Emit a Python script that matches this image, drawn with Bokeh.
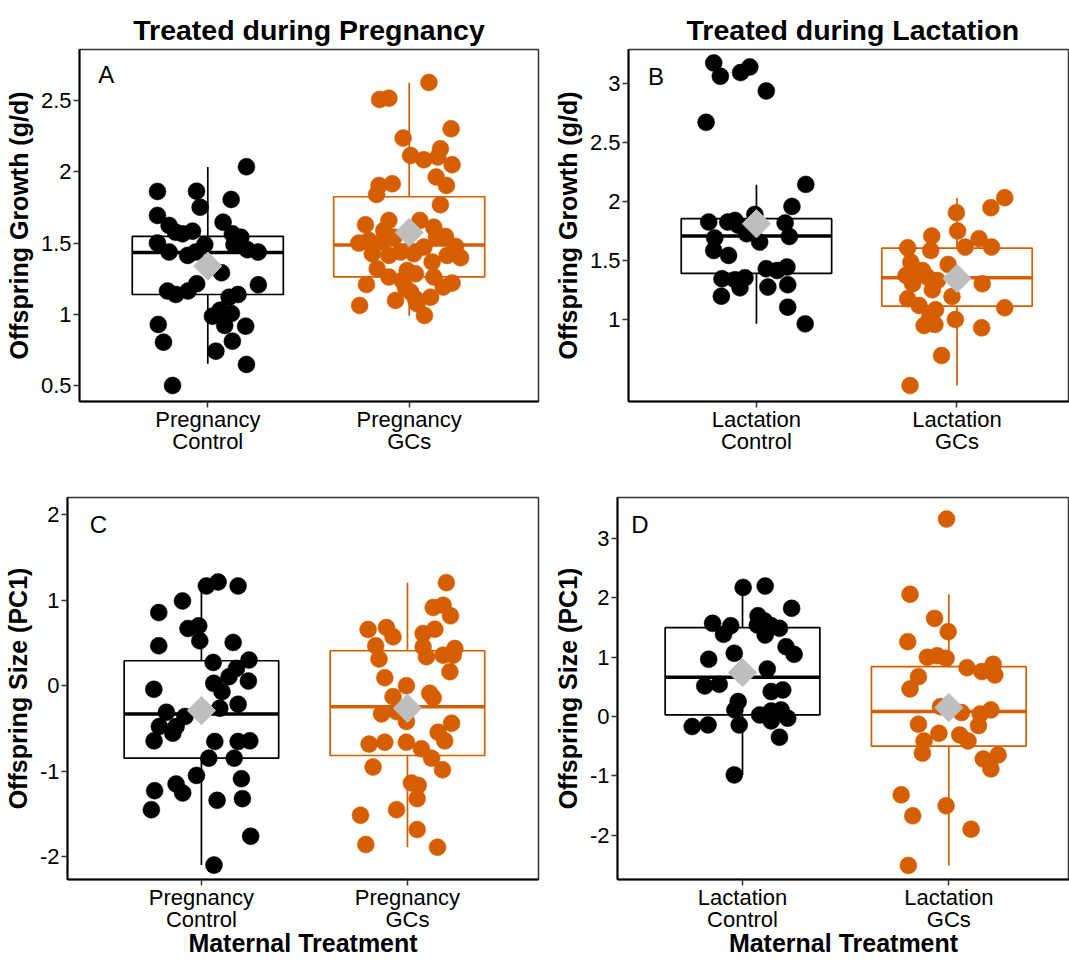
import numpy as np
from bokeh.plotting import figure
from bokeh.layouts import row, column
from bokeh.models import FixedTicker, NumeralTickFormatter, Label, Range1d
from bokeh.embed import file_html
from bokeh.resources import INLINE

BLACK = "#000000"
ORANGE = "#D55E00"
GREY = "#BEBEBE"
FONT = "Liberation Sans"

groups = [1, 2]
preg_labels = ["Pregnancy\nControl", "Pregnancy\nGCs"]
lact_labels = ["Lactation\nControl", "Lactation\nGCs"]

# ---------------- Panel A: growth, pregnancy ----------------
a_ctrl_x = [0.75, 0.944, 1.192, 1.116, 0.962, 0.75, 1.076, 0.808, 0.924, 0.874, 0.84, 0.75, 0.808, 0.9,
            0.985, 0.94, 1.122, 1.164, 1.13, 1.197, 1.25, 1.068, 1.251, 0.8, 0.841, 0.902, 0.945, 1.106,
            1.15, 1.023, 1.117, 1.061, 1.084, 1.188, 0.754, 0.78, 1.122, 1.04, 1.192, 0.825]
a_ctrl_y = [1.862, 1.864, 2.035, 1.806, 1.752, 1.694, 1.647, 1.624, 1.584, 1.565, 1.577, 1.5, 1.437, 1.414,
            1.49, 1.437, 1.565, 1.542, 1.49, 1.453, 1.437, 1.292, 1.208, 1.164, 1.14, 1.164, 1.215, 1.121,
            1.14, 0.988, 1.007, 1.03, 0.923, 0.918, 0.93, 0.806, 0.813, 0.743, 0.65, 0.502]
a_gcs_x = [2.098, 1.853, 1.899, 2.208, 1.97, 2.007, 2.073, 2.155, 2.142, 2.213, 1.916, 1.85, 2.134, 2.185,
           1.838, 2.155, 1.783, 1.899, 1.874, 2.053, 2.122, 2.18, 2.23, 2.255, 1.75, 1.8, 1.817, 1.899,
           1.957, 2.023, 2.073, 2.114, 2.188, 1.841, 1.899, 1.99, 2.031, 1.965, 2.122, 2.169, 2.213, 1.788,
           1.982, 1.932, 2.031, 2.106, 1.754, 2.04, 2.076, 2.007, 1.864, 1.924, 2.136]
a_gcs_y = [2.626, 2.507, 2.516, 2.301, 2.236, 2.114, 2.084, 2.161, 2.103, 2.049, 1.916, 1.904, 1.963, 1.904,
           1.841, 1.769, 1.628, 1.659, 1.589, 1.659, 1.612, 1.547, 1.477, 1.397, 1.5, 1.519, 1.425, 1.414,
           1.437, 1.425, 1.472, 1.367, 1.414, 1.32, 1.262, 1.308, 1.285, 1.238, 1.262, 1.192, 1.22, 1.21,
           1.187, 1.098, 1.11, 1.121, 1.063, 1.075, 0.993, 1.157, 1.507, 1.542, 1.542]
a_q1 = [1.14, 1.264]
a_med = [1.435, 1.486]
a_q3 = [1.547, 1.825]
a_lo = [0.654, 0.991]
a_hi = [2.033, 2.624]
a_mean = [1.339, 1.575]
a_ticks = [0.5, 1, 1.5, 2, 2.5]

# ---------------- Panel B: growth, lactation ----------------
b_ctrl_x = [0.787, 0.82, 0.921, 0.967, 1.049, 0.749, 1.246, 1.177, 0.762, 0.857, 0.893, 0.992, 0.951, 1.143,
            1.164, 0.792, 0.787, 0.861, 1.016, 0.828, 0.893, 0.943, 0.918, 1.049, 1.103, 1.152, 1.057, 1.156,
            0.825, 1.156, 1.243, 0.91]
b_ctrl_y = [3.178, 3.065, 3.096, 3.144, 2.94, 2.674, 2.147, 1.96, 1.827, 1.827, 1.841, 1.892, 1.728, 1.819,
            1.705, 1.691, 1.586, 1.544, 1.657, 1.346, 1.337, 1.354, 1.269, 1.431, 1.416, 1.445, 1.275, 1.295,
            1.198, 1.105, 0.963, 1.8]
b_gcs_x = [2.238, 2.169, 1.997, 2.003, 1.874, 2.11, 1.754, 1.869, 2.041, 2.172, 1.77, 1.956, 1.746, 1.803,
           1.852, 1.902, 1.877, 1.779, 2.126, 1.754, 1.811, 1.975, 1.893, 1.864, 1.836, 1.89, 1.992, 2.238,
           2.123, 1.923, 1.766, 1.828]
b_gcs_y = [2.034, 1.949, 1.907, 1.751, 1.708, 1.686, 1.609, 1.586, 1.615, 1.615, 1.487, 1.467, 1.374, 1.388,
           1.36, 1.331, 1.252, 1.303, 1.303, 1.176, 1.119, 1.195, 1.082, 1.02, 0.949, 0.958, 1.0, 1.099,
           0.929, 0.694, 0.439, 1.416]
b_q1 = [1.391, 1.113]
b_med = [1.708, 1.354]
b_q3 = [1.856, 1.606]
b_lo = [0.963, 0.439]
b_hi = [2.144, 2.034]
b_mean = [1.813, 1.348]
b_ticks = [1, 1.5, 2, 2.5, 3]

# ---------------- Panel C: size, pregnancy ----------------
c_ctrl_x = [1.024, 1.081, 1.178, 0.908, 0.793, 0.935, 0.987, 0.992, 0.793, 1.154, 1.057, 1.231, 1.17, 1.134,
            1.06, 1.228, 1.1, 0.769, 1.178, 1.089, 0.83, 0.92, 0.796, 0.877, 0.861, 0.77, 1.065, 1.178,
            1.235, 1.036, 1.159, 0.976, 1.194, 0.877, 0.909, 0.773, 1.076, 1.199, 0.757, 1.239, 1.061]
c_ctrl_y = [1.165, 1.212, 1.165, 0.99, 0.854, 0.668, 0.699, 0.524, 0.466, 0.505, 0.272, 0.299, 0.202, 0.105,
            0.027, 0.054, -0.07, -0.043, -0.217, -0.264, -0.311, -0.361, -0.478, -0.478, -0.555, -0.645,
            -0.652, -0.652, -0.645, -0.847, -0.847, -1.049, -1.087, -1.15, -1.254, -1.227, -1.34, -1.32,
            -1.449, -1.759, -2.097]
c_gcs_x = [2.189, 2.125, 2.173, 2.209, 1.809, 1.898, 1.93, 2.076, 2.133, 1.846, 2.076, 2.23, 1.862, 2.092,
           2.173, 2.222, 2.206, 1.89, 1.995, 2.108, 2.125, 1.93, 1.874, 1.995, 2.214, 2.149, 2.181, 1.814,
           1.89, 1.995, 2.068, 2.117, 1.833, 2.17, 2.019, 2.052, 2.047, 1.947, 1.772, 2.047, 1.798, 2.146,
           1.947]
c_gcs_y = [1.204, 0.913, 0.94, 0.816, 0.656, 0.68, 0.571, 0.61, 0.66, 0.466, 0.454, 0.435, 0.311, 0.338,
           0.357, 0.357, 0.163, 0.093, 0.0, -0.089, -0.14, -0.128, -0.33, -0.419, -0.439, -0.544, -0.645,
           -0.683, -0.66, -0.66, -0.738, -0.847, -0.951, -0.983, -1.138, -1.165, -1.32, -1.449, -1.515,
           -1.682, -1.856, -1.887, -0.303]
c_q1 = [-0.847, -0.816]
c_med = [-0.33, -0.245]
c_q3 = [0.291, 0.408]
c_lo = [-2.097, -1.887]
c_hi = [1.165, 1.204]
c_mean = [-0.291, -0.264]
c_ticks = [-2, -1, 0, 1, 2]

# ---------------- Panel D: size, lactation ----------------
d_ctrl_x = [1.003, 1.11, 1.238, 0.855, 0.943, 0.908, 1.075, 1.107, 1.072, 1.139, 1.179, 1.11, 1.211, 1.25,
            0.836, 0.96, 1.12, 0.817, 0.887, 1.139, 1.195, 0.979, 0.963, 1.083, 1.139, 1.187, 1.219, 1.139,
            0.756, 0.833, 0.984, 1.179, 0.96]
d_ctrl_y = [2.177, 2.2, 1.824, 1.571, 1.532, 1.386, 1.7, 1.611, 1.543, 1.532, 1.487, 1.375, 1.178, 1.049,
            0.965, 1.066, 0.802, 0.516, 0.544, 0.421, 0.449, 0.253, 0.112, 0.028, 0.095, 0.112, -0.028,
            -0.073, -0.168, -0.14, -0.14, -0.348, -0.982]
d_gcs_x = [1.989, 1.812, 1.931, 1.997, 1.801, 1.896, 1.944, 1.987, 2.088, 2.16, 2.215, 2.223, 1.853, 1.812,
           1.96, 2.061, 2.152, 2.204, 2.144, 1.853, 1.952, 2.053, 2.093, 1.88, 1.872, 2.167, 2.239, 2.204,
           1.769, 1.987, 1.825, 2.108, 1.804]
d_gcs_y = [3.328, 2.06, 1.655, 1.431, 1.263, 0.999, 1.027, 0.982, 0.825, 0.758, 0.881, 0.701, 0.673, 0.466,
           0.168, 0.067, 0.045, 0.112, -0.152, -0.129, -0.281, -0.309, -0.41, -0.41, -0.617, -0.713, -0.645,
           -0.881, -1.319, -1.504, -1.672, -1.897, -2.508]
d_q1 = [0.028, -0.499]
d_med = [0.662, 0.084]
d_q3 = [1.498, 0.842]
d_lo = [-0.982, -2.508]
d_hi = [2.189, 2.06]
d_mean = [0.741, 0.152]
d_ticks = [-2, -1, 0, 1, 2, 3]

COLORS = [BLACK, ORANGE]
BOX_W = 0.75


def make_panel(width, height, borders, xr, yr, yticks, xlabels, ylabel, xlabel, title, title_align,
               title_offset, letter, letter_xy, ctrl, gcs, stats):
    bl, br, bt, bb = borders
    p = figure(width=width, height=height, x_range=Range1d(*xr), y_range=Range1d(*yr),
               output_backend="svg", toolbar_location=None, title=title,
               min_border_left=bl, min_border_right=br, min_border_top=bt, min_border_bottom=bb)
    p.background_fill_color = "white"
    p.border_fill_color = "white"
    p.outline_line_color = "#333333"
    p.outline_line_width = 1.5
    p.xgrid.visible = False
    p.ygrid.visible = False
    if title is not None:
        p.title.text_font = FONT
        p.title.text_font_size = "28.5px"
        p.title.text_font_style = "bold"
        p.title.text_color = "black"
        p.title.align = title_align
        p.title.offset = title_offset
        p.title.standoff = 8

    for ax in (p.xaxis[0], p.yaxis[0]):
        ax.axis_line_width = 2
        ax.axis_line_color = "black"
        ax.major_tick_out = 6
        ax.major_tick_in = 0
        ax.minor_tick_out = 0
        ax.minor_tick_in = 0
        ax.major_tick_line_width = 1.5
        ax.major_tick_line_color = "#333333"
        ax.major_label_text_font = FONT
        ax.major_label_text_font_size = "22px"
        ax.major_label_text_color = "black"
        ax.axis_label_text_font = FONT
        ax.axis_label_text_font_size = "25px"
        ax.axis_label_text_font_style = "bold"
        ax.axis_label_text_color = "black"

    ya = p.yaxis[0]
    ya.ticker = FixedTicker(ticks=yticks)
    ya.formatter = NumeralTickFormatter(format="0.[0]")
    ya.major_label_standoff = 2
    ya.axis_label = ylabel
    ya.axis_label_standoff = 5

    xa = p.xaxis[0]
    xa.ticker = FixedTicker(ticks=groups)
    xa.major_label_overrides = {g: lab for g, lab in zip(groups, xlabels)}
    xa.major_label_text_line_height = 0.9
    xa.major_label_standoff = -1
    xa.axis_label = xlabel
    xa.axis_label_standoff = -6

    q1, med, q3, lo, hi, mean = stats
    # whiskers
    p.segment(x0=groups, y0=q3, x1=groups, y1=hi, line_color=COLORS, line_width=1.7)
    p.segment(x0=groups, y0=q1, x1=groups, y1=lo, line_color=COLORS, line_width=1.7)
    # boxes
    p.vbar(x=groups, width=BOX_W, top=q3, bottom=q1, fill_color="white", line_color=COLORS, line_width=1.7)
    # median
    left = [g - BOX_W / 2 for g in groups]
    right = [g + BOX_W / 2 for g in groups]
    p.segment(x0=left, y0=med, x1=right, y1=med, line_color=COLORS, line_width=3.5)
    # points
    for (xs, ys), col in zip((ctrl, gcs), COLORS):
        p.scatter(x=xs, y=ys, size=17, fill_color=col, line_color=col, line_width=0.5)
    # mean diamonds
    p.scatter(x=groups, y=mean, marker="square", angle=np.pi / 4, size=20,
              fill_color=GREY, line_color=GREY)

    p.add_layout(Label(x=letter_xy[0], y=letter_xy[1], text=letter, text_font=FONT,
                       text_font_size="24px", text_color="black", text_baseline="alphabetic",
                       text_align="left"))
    return p


pa = make_panel(550, 475, (79, 12, 49, 74), (0.363, 2.642), (0.39, 2.857), a_ticks, preg_labels,
                "Offspring Growth (g/d)", None, "Treated during Pregnancy", "center", 0,
                "A", (0.456, 2.681), (a_ctrl_x, a_ctrl_y), (a_gcs_x, a_gcs_y),
                (a_q1, a_med, a_q3, a_lo, a_hi, a_mean))
pb = make_panel(519, 475, (72, 0, 49, 74), (0.362, 2.561), (0.304, 3.292), b_ticks, lact_labels,
                "Offspring Growth (g/d)", None, "Treated during Lactation", "left", 58,
                "B", (0.459, 3.065), (b_ctrl_x, b_ctrl_y), (b_gcs_x, b_gcs_y),
                (b_q1, b_med, b_q3, b_lo, b_hi, b_mean))
pc = make_panel(550, 485, (67, 12, 22, 80), (0.35, 2.636), (-2.265, 2.199), c_ticks, preg_labels,
                "Offspring Size (PC1)", "Maternal Treatment", None, "center", 0,
                "C", (0.458, 1.888), (c_ctrl_x, c_ctrl_y), (c_gcs_x, c_gcs_y),
                (c_q1, c_med, c_q3, c_lo, c_hi, c_mean))
pd_ = make_panel(519, 485, (61, 0, 22, 80), (0.394, 2.585), (-2.745, 3.692), d_ticks, lact_labels,
                 "Offspring Size (PC1)", "Maternal Treatment", None, "center", 0,
                 "D", (0.461, 3.244), (d_ctrl_x, d_ctrl_y), (d_gcs_x, d_gcs_y),
                 (d_q1, d_med, d_q3, d_lo, d_hi, d_mean))

layout = column(row(pa, pb), row(pc, pd_))
open("out.html", "w").write(file_html(layout, INLINE))
